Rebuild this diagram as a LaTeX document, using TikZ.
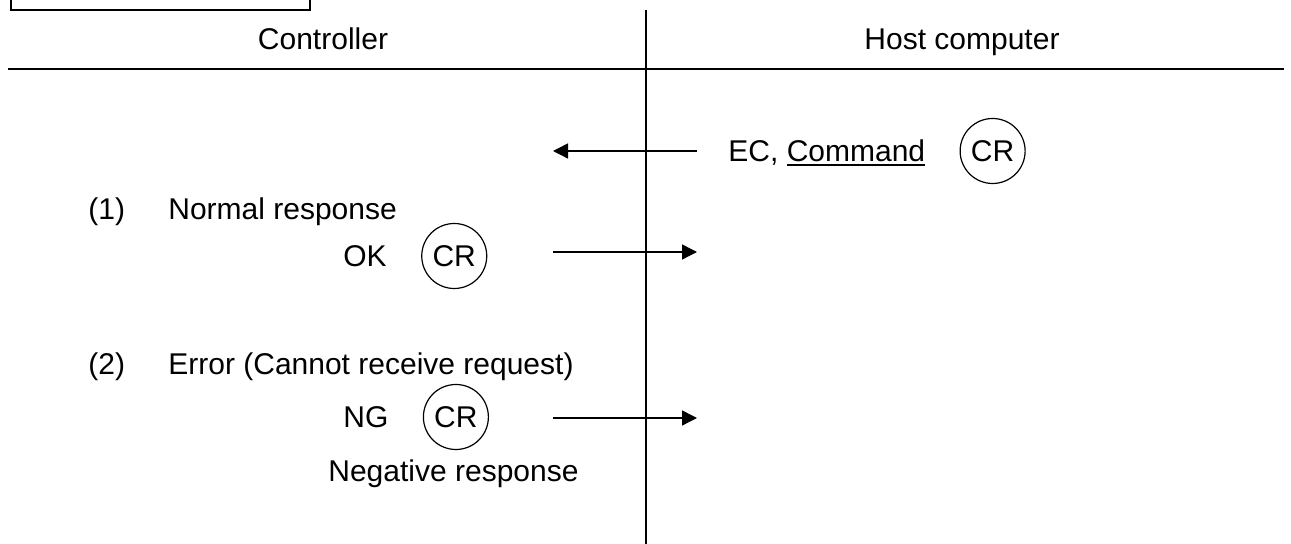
\documentclass[tikz,border=0pt]{standalone}
\usepackage{fontspec}
\setmainfont{Liberation Sans}
\usetikzlibrary{arrows.meta,positioning}
\newsavebox\ulbox
\newcommand\thickul[1]{\sbox\ulbox{#1}\rlap{\rule[-2pt]{\wd\ulbox}{1pt}}\usebox\ulbox}

\begin{document}
\begin{tikzpicture}[x=0.5pt,y=-0.5pt,
	txt/.style={inner sep=0pt,font=\fontsize{15}{18}\selectfont},
	crmark/.style={draw,circle,minimum size=32.5pt,inner sep=0pt,line width=0.6pt,font=\fontsize{15}{18}\selectfont,yshift=5.5pt},
	msg/.style={line width=0.7pt,-{Triangle[length=7.5pt,width=7.5pt]}},
	rule/.style={line width=1pt}]
	\useasboundingbox (0,0) rectangle (1291,544);
	\draw[line width=0.7pt] (11,-20) rectangle (310,10);
	% column rules
	\coordinate (top) at (646,10);
	\coordinate (bot) at (646,544);
	\coordinate (hl) at (8,69);
	\coordinate (hr) at (1284,69);
	\draw[rule] (top) -- (bot);
	\draw[rule] (hl) -- (hr);
	\node[txt,anchor=base] (ctrl) at (323,50) {Controller};
	\node[txt,anchor=base] (host) at (962,50) {Host computer};
	% request
	\node[txt,anchor=base west] (cmd) at (728,162) {EC, \thickul{Command}};
	\node[crmark,right=17pt of cmd.base east] (cmdcr) {CR};
	\coordinate (cmdtail) at (697,151);
	\coordinate (cmdtip) at (553,151);
	\draw[msg] (cmdtail) -- (cmdtip);
	% (1)
	\node[txt,anchor=base west] (one) at (88,220) {(1)};
	\node[txt,anchor=base west] (normal) at (168,220) {Normal response};
	\node[txt,anchor=base west] (ok) at (343,267) {OK};
	\node[crmark,right=17pt of ok.base east] (okcr) {CR};
	\coordinate (oktail) at (553,252);
	\coordinate (oktip) at (697,252);
	\draw[msg] (oktail) -- (oktip);
	% (2)
	\node[txt,anchor=base west] (two) at (88,375) {(2)};
	\node[txt,anchor=base west] (error) at (168,375) {Error (Cannot receive request)};
	\node[txt,anchor=base west] (ng) at (343,428) {NG};
	\node[crmark,right=17pt of ng.base east] (ngcr) {CR};
	\node[txt,anchor=base west] (neg) at (328,482) {Negative response};
	\coordinate (ngtail) at (553,418);
	\coordinate (ngtip) at (697,418);
	\draw[msg] (ngtail) -- (ngtip);
\end{tikzpicture}
\end{document}
